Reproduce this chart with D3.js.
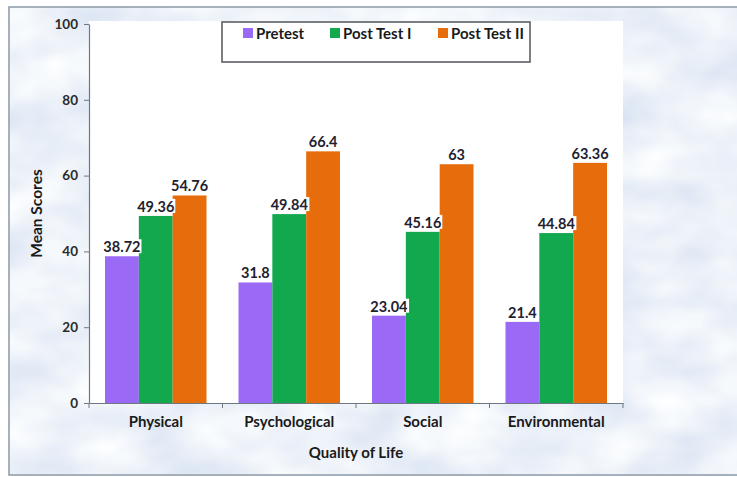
<!DOCTYPE html>
<html>
<head>
<meta charset="utf-8">
<script src="https://cdn.jsdelivr.net/npm/d3@7"></script>
<style>
  html, body { margin: 0; padding: 0; background: #ffffff; }
  svg { display: block; }
  text { font-family: Lato, "Open Sans", sans-serif; font-weight: bold; }
</style>
</head>
<body>
<svg id="chart" width="737" height="477"></svg>
<script>
// Quality of life domains and mean scores per assessment
const categories = ["Physical", "Psychological", "Social", "Environmental"];
const seriesNames = ["Pretest", "Post Test I", "Post Test II"];
const pretest = [38.72, 31.8, 23.04, 21.4];
const postTest1 = [49.36, 49.84, 45.16, 44.84];
const postTest2 = [54.76, 66.4, 63, 63.36];
const yTicks = [0, 20, 40, 60, 80, 100];
const seriesColors = ["#9a69f5", "#11a84e", "#e66c0c"];

const seriesValues = [pretest, postTest1, postTest2];

const svg = d3.select("#chart");
const W = 737, H = 477;

// Soft mottled light-blue backdrop
const defs = svg.append("defs");
const f = defs.append("filter").attr("id", "marble")
  .attr("x", 0).attr("y", 0).attr("width", "100%").attr("height", "100%");
f.append("feTurbulence").attr("type", "fractalNoise")
  .attr("baseFrequency", "0.014 0.022").attr("numOctaves", 3).attr("seed", 11);
f.append("feColorMatrix").attr("type", "matrix")
  .attr("values", "0.38 0 0 0 0.66  0.3 0 0 0 0.74  0.14 0 0 0 0.88  0 0 0 0 1");
f.append("feGaussianBlur").attr("stdDeviation", 0.8);

svg.append("rect").attr("x", 9).attr("y", 7).attr("width", W).attr("height", 468)
  .attr("filter", "url(#marble)");
svg.append("rect").attr("x", 9).attr("y", 7).attr("width", W).attr("height", 468)
  .attr("fill", "none").attr("stroke", "#8a98a6").attr("stroke-width", 1.5);

// Plot geometry
const plot = { left: 89, right: 623, top: 24, bottom: 403 };

svg.append("rect").attr("x", plot.left).attr("y", 21)
  .attr("width", plot.right - plot.left).attr("height", plot.bottom - 21)
  .attr("fill", "#ffffff");

const x = d3.scaleBand().domain(categories).range([plot.left, plot.right]).padding(0);
const xs = d3.scaleBand().domain(seriesNames).range([16, x.bandwidth() - 16]).padding(0);
const y = d3.scaleLinear().domain([0, 100]).range([plot.bottom, plot.top]);

// Bars
const rows = [];
categories.forEach((c, i) => {
  seriesNames.forEach((s, j) => rows.push({ c, s, j, v: seriesValues[j][i] }));
});

svg.append("g").selectAll("rect").data(rows).join("rect")
  .attr("x", d => x(d.c) + xs(d.s))
  .attr("y", d => y(d.v))
  .attr("width", xs.bandwidth())
  .attr("height", d => y(0) - y(d.v))
  .attr("fill", d => seriesColors[d.j]);

// Value labels on white backing
const lab = svg.append("g").selectAll("g").data(rows).join("g")
  .attr("transform", d => `translate(${x(d.c) + xs(d.s) + xs.bandwidth() / 2},${y(d.v) - 4})`);
lab.append("text")
  .attr("text-anchor", "middle")
  .attr("font-size", 14.5)
  .attr("fill", "#1e2230")
  .text(d => String(d.v));
lab.each(function () {
  const g = d3.select(this);
  const bb = g.select("text").node().getBBox();
  g.insert("rect", "text").attr("x", bb.x - 1).attr("y", bb.y + 1)
    .attr("width", bb.width + 2).attr("height", bb.height - 3).attr("fill", "#ffffff");
});

// Axes
const yAxis = svg.append("g").attr("transform", `translate(${plot.left},0)`)
  .call(d3.axisLeft(y).tickValues(yTicks).tickSize(5).tickPadding(6).tickSizeOuter(0));
yAxis.select(".domain").attr("stroke", "#6f7880").attr("stroke-width", 1.2);
yAxis.selectAll(".tick line").attr("stroke", "#6f7880");
yAxis.selectAll("text").attr("font-size", 13.5).attr("fill", "#2a2a2a")
  .style("font-family", "Lato, sans-serif").style("font-weight", "bold");

const xAxis = svg.append("g").attr("transform", `translate(0,${plot.bottom})`)
  .call(d3.axisBottom(x).tickSize(0).tickPadding(13));
xAxis.select(".domain").attr("stroke", "#6f7880").attr("stroke-width", 1.2);
xAxis.selectAll("text").attr("font-size", 15).attr("fill", "#1a1a1a")
  .style("font-family", "Lato, sans-serif").style("font-weight", "bold");

// Boundary ticks between categories
const bounds = categories.map(c => x(c)).concat([plot.right]);
svg.append("g").selectAll("line").data(bounds).join("line")
  .attr("x1", d => d).attr("x2", d => d)
  .attr("y1", plot.bottom).attr("y2", plot.bottom + 5)
  .attr("stroke", "#6f7880");

// Axis titles
svg.append("text").attr("x", (plot.left + plot.right) / 2).attr("y", 458)
  .attr("text-anchor", "middle").attr("font-size", 15).attr("fill", "#1a1a1a")
  .text("Quality of Life");
svg.append("text").attr("transform", `translate(42,${(plot.top + plot.bottom) / 2}) rotate(-90)`)
  .attr("text-anchor", "middle").attr("font-size", 15.5).attr("fill", "#1a1a1a")
  .text("Mean Scores");

// Legend
const lg = { x: 222, y: 22, w: 308, h: 40 };
defs.append("clipPath").attr("id", "legclip").append("rect")
  .attr("x", lg.x).attr("y", lg.y).attr("width", lg.w).attr("height", lg.h);
svg.append("rect").attr("x", lg.x).attr("y", lg.y).attr("width", lg.w).attr("height", lg.h)
  .attr("fill", "#ffffff");
const legItems = svg.append("g").attr("clip-path", "url(#legclip)")
  .selectAll("g").data(seriesNames).join("g")
  .attr("transform", (d, i) => `translate(${[243, 330, 438][i]},${lg.y + 6})`);
legItems.append("rect").attr("width", 10).attr("height", 10)
  .attr("fill", (d, i) => seriesColors[i]);
legItems.append("text").attr("x", 13).attr("y", 10.5).attr("font-size", 15)
  .attr("fill", "#1a1a1a").text(d => d);
svg.append("rect").attr("x", lg.x).attr("y", lg.y).attr("width", lg.w).attr("height", lg.h)
  .attr("fill", "none").attr("stroke", "#5a5e63").attr("stroke-width", 1.6);
</script>
</body>
</html>
